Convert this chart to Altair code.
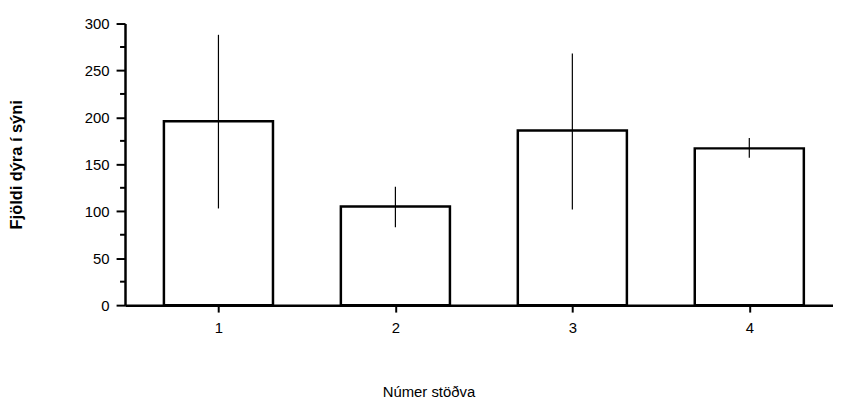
import altair as alt
import pandas as pd

stations = [1, 2, 3, 4]
means = [196, 105, 186, 167]
err_low = [103, 83, 102, 157]
err_high = [288, 126, 268, 178]
y_ticks = [0, 50, 100, 150, 200, 250, 300]
minor_ticks = [25, 75, 125, 175, 225, 275]

df = pd.DataFrame({"st": stations, "mean": means, "lo": err_low, "hi": err_high})
df_minor = pd.DataFrame({"v": minor_ticks})

FONT = "Liberation Sans"

x_scale = alt.Scale(domain=[0.5, 4.445], nice=False, zero=False)

x_enc = alt.X(
    "st:Q",
    scale=x_scale,
    axis=alt.Axis(
        title="Númer stöðva",
        values=stations,
        format="d",
        grid=False,
        labelAngle=0,
        tickSize=7,
        tickWidth=2,
        tickColor="black",
        domainColor="black",
        domainWidth=2.5,
        labelFont=FONT,
        labelFontSize=15,
        labelColor="black",
        labelPadding=9,
        labelFlush=False,
        titleFont=FONT,
        titleFontSize=15,
        titleFontWeight="normal",
        titleColor="black",
        titleX=306,
        titleY=87,
        titleBaseline="middle",
    ),
)

y_scale = alt.Scale(domain=[0, 300], nice=False)

bars = alt.Chart(df).mark_bar(fill="white", stroke="black", strokeWidth=2.5, width=110).encode(
    x=x_enc,
    y=alt.Y(
        "mean:Q",
        scale=y_scale,
        axis=alt.Axis(
            title="Fjöldi dýra í sýni",
            values=y_ticks,
            grid=False,
            tickSize=9,
            tickWidth=2,
            tickColor="black",
            domainColor="black",
            domainWidth=2.5,
            labelFont=FONT,
            labelFontSize=15,
            labelColor="black",
            labelPadding=7,
            titleFont=FONT,
            titleFontSize=16.5,
            titleFontWeight="bold",
            titleColor="black",
            titleAngle=-90,
            titleX=-109,
            titleY=142,
            titleAlign="center",
            titleBaseline="middle",
        ),
    ),
)

errs = alt.Chart(df).mark_rule(color="black", strokeWidth=1.2).encode(
    x=alt.X("st:Q", scale=x_scale),
    y=alt.Y("lo:Q", scale=y_scale),
    y2="hi:Q",
)

minor = alt.Chart(df_minor).mark_rule(color="black", strokeWidth=2).encode(
    y=alt.Y("v:Q", scale=y_scale),
    x=alt.value(-5),
    x2=alt.value(0),
)

chart = (
    alt.layer(bars, errs, minor)
    .properties(
        width=714,
        height=284,
        autosize=alt.AutoSizeParams(type="none"),
        padding={"left": 118, "top": 14, "right": 0, "bottom": 95},
        background="white",
    )
    .configure_view(stroke=None)
)

chart.save("out.html", embed_options={"renderer": "svg", "actions": False})
